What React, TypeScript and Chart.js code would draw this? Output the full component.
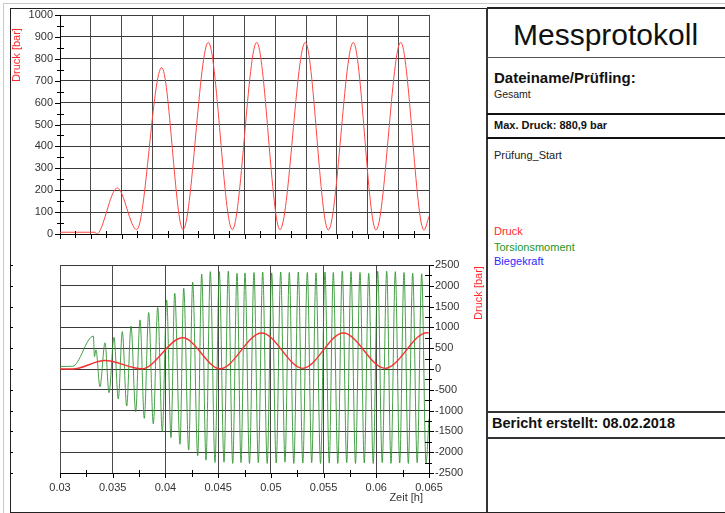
import React, { useEffect, useRef } from 'react';
import { Chart, registerables } from 'chart.js';
Chart.register(...registerables);

const FONT = '"Liberation Sans", Arial, sans-serif';

// ---------- Top chart (Druck over test progress, no x labels) ----------
const TOP_X = [0, 1.138, 1.193, 1.278, 1.863, 2.494, 3.307, 4.0, 4.823, 5.603, 6.397, 7.154, 7.977, 8.725, 9.538, 10.276, 11.08, 11.837, 12];
const TOP_DRUCK = [8, 8, 0, 10, 210, 20, 760, 20, 875, 20, 875, 20, 875, 18, 875, 18, 875, 18, 80];
const TOP_Y_TICKS = [0, 100, 200, 300, 400, 500, 600, 700, 800, 900, 1000];
const TOP_X_GRID = [0, 1, 2, 3, 4, 5, 6, 7, 8, 9, 10, 11, 12];

// ---------- Bottom chart (Zeit [h]) ----------
const BOTTOM_X_TICKS = [0.03, 0.035, 0.04, 0.045, 0.05, 0.055, 0.06, 0.065];
const BOTTOM_Y_TICKS = [-2500, -2000, -1500, -1000, -500, 0, 500, 1000, 1500, 2000, 2500];

const DRUCK_T = [0.03, 0.0312, 0.03427, 0.03775, 0.04164, 0.04518, 0.04913, 0.05302, 0.05687, 0.06083, 0.06481, 0.065];
const DRUCK_V = [0, 0, 205, 5, 750, 5, 865, 15, 865, 15, 870, 868];

const TORSION_T = [
  0.03, 0.0312, 0.03316, 0.03327, 0.03341, 0.03379,
  0.034268, 0.034648, 0.035122, 0.03553, 0.035909, 0.036327, 0.036734, 0.03718,
  0.037588, 0.037996, 0.038413, 0.03885, 0.039267, 0.039703, 0.04012, 0.040528,
  0.040879, 0.041382, 0.041733, 0.042207, 0.042587, 0.043061, 0.04344, 0.043848,
  0.044256, 0.044702, 0.04511, 0.045556, 0.045963, 0.046381, 0.046789, 0.047168,
  0.047547, 0.047974, 0.048401, 0.048809, 0.049226, 0.049653, 0.05008, 0.050507,
  0.050933, 0.051341, 0.051749, 0.052176, 0.052603, 0.05303, 0.053457, 0.053874,
  0.054282, 0.054709, 0.055136, 0.055534, 0.055923, 0.05635, 0.056776, 0.057194,
  0.057602, 0.058029, 0.058455, 0.058863, 0.05928, 0.059707, 0.060134, 0.060561,
  0.060988, 0.061396, 0.061804, 0.062221, 0.062629, 0.063037, 0.063454, 0.063881,
  0.064307, 0.064715, 0.065
];
const TORSION_V = [
  60, 65, 790, 300, 460, -425,
  630, -570, 760, -720, 900, -890, 1030, -1025,
  1180, -1185, 1355, -1320, 1480, -1510, 1660, -1650,
  1820, -1810, 1940, -1950, 2085, -2085, 2280, -2190,
  2340, -2245, 2340, -2240, 2350, -2270, 2300, -2250,
  2310, -2270, 2320, -2250, 2330, -2270, 2310, -2260,
  2330, -2240, 2320, -2270, 2330, -2260, 2320, -2250,
  2310, -2270, 2330, -2260, 2320, -2270, 2350, -2250,
  2340, -2270, 2320, -2260, 2300, -2270, 2350, -2250,
  2350, -2270, 2340, -2260, 2320, -2270, 2300, -2250,
  2290, -2260, -1200
];

const pts = (xs: number[], ys: number[]) => xs.map((x, i) => ({ x, y: ys[i] }));

function crisp(v: number) {
  return Math.round(v) + 0.5;
}

const topPlugin = {
  id: 'topDeco',
  afterDraw(chart: any) {
    const { ctx, chartArea, scales } = chart;
    const { left, bottom } = chartArea;
    const x = scales.x, y = scales.y;
    ctx.save();
    ctx.strokeStyle = '#000';
    ctx.lineWidth = 1;
    ctx.beginPath();
    const yp = y.ticks.map((t: any) => y.getPixelForValue(t.value));
    yp.forEach((p: number) => { ctx.moveTo(left - 5, crisp(p)); ctx.lineTo(left, crisp(p)); });
    for (let i = 0; i < yp.length - 1; i++) {
      const p = crisp((yp[i] + yp[i + 1]) / 2);
      ctx.moveTo(left - 3, p); ctx.lineTo(left + 4, p);
    }
    const xp = x.ticks.map((t: any) => x.getPixelForValue(t.value));
    xp.forEach((p: number) => { ctx.moveTo(crisp(p), bottom); ctx.lineTo(crisp(p), bottom + 5); });
    for (let i = 0; i < xp.length - 1; i++) {
      const p = crisp((xp[i] + xp[i + 1]) / 2);
      ctx.moveTo(p, bottom - 3); ctx.lineTo(p, bottom + 4);
    }
    ctx.stroke();
    ctx.fillStyle = '#ff2a2a';
    ctx.font = `11px ${FONT}`;
    ctx.textAlign = 'center';
    ctx.textBaseline = 'middle';
    ctx.translate(7, 47);
    ctx.rotate(-Math.PI / 2);
    ctx.fillText('Druck [bar]', 0, 0);
    ctx.restore();
  },
};

const bottomPlugin = {
  id: 'bottomDeco',
  afterDraw(chart: any) {
    const { ctx, chartArea, scales } = chart;
    const { right, bottom } = chartArea;
    const x = scales.x, y = scales.y;
    ctx.save();
    ctx.strokeStyle = '#000';
    ctx.lineWidth = 1;
    ctx.beginPath();
    const yp = y.ticks.map((t: any) => y.getPixelForValue(t.value));
    yp.forEach((p: number) => {
      ctx.moveTo(right, crisp(p)); ctx.lineTo(right + 5, crisp(p));
      ctx.moveTo(0, crisp(p)); ctx.lineTo(3, crisp(p));
    });
    for (let i = 0; i < yp.length - 1; i++) {
      const p = crisp((yp[i] + yp[i + 1]) / 2);
      ctx.moveTo(right - 4, p); ctx.lineTo(right + 3, p);
    }
    const xp = x.ticks.map((t: any) => x.getPixelForValue(t.value));
    xp.forEach((p: number) => { ctx.moveTo(crisp(p), bottom); ctx.lineTo(crisp(p), bottom + 5); });
    for (let i = 0; i < xp.length - 1; i++) {
      const p = crisp((xp[i] + xp[i + 1]) / 2);
      ctx.moveTo(p, bottom - 3); ctx.lineTo(p, bottom + 4);
    }
    ctx.stroke();
    ctx.font = `11px ${FONT}`;
    ctx.textBaseline = 'middle';
    ctx.fillStyle = '#333';
    ctx.textAlign = 'right';
    ctx.fillText('Zeit [h]', 413, 245);
    ctx.fillStyle = '#ff2a2a';
    ctx.textAlign = 'center';
    ctx.translate(469, 40);
    ctx.rotate(-Math.PI / 2);
    ctx.fillText('Druck [bar]', 0, 0);
    ctx.restore();
  },
};

const tickFont = { family: FONT, size: 11 };

function TopChart() {
  const ref = useRef<HTMLCanvasElement>(null);
  useEffect(() => {
    const chart = new Chart(ref.current!, {
      type: 'line',
      data: {
        datasets: [{
          data: pts(TOP_X, TOP_DRUCK),
          borderColor: 'rgb(255,70,70)',
          borderWidth: 1,
          pointRadius: 0,
          cubicInterpolationMode: 'monotone',
        }],
      },
      options: {
        animation: false,
        responsive: false,
        devicePixelRatio: 1,
        layout: { padding: { left: 0, right: 58, top: 7, bottom: 0 } },
        plugins: { legend: { display: false }, tooltip: { enabled: false } },
        scales: {
          x: {
            type: 'linear', min: 0, max: 12,
            afterBuildTicks: (s: any) => { s.ticks = TOP_X_GRID.map((v) => ({ value: v })); },
            ticks: { display: false },
            grid: { color: '#4a4a4a', drawTicks: false },
            border: { color: '#000' },
            afterFit: (s: any) => { s.height = 19; },
          },
          y: {
            type: 'linear', min: 0, max: 1000,
            afterBuildTicks: (s: any) => { s.ticks = TOP_Y_TICKS.map((v) => ({ value: v })); },
            ticks: { callback: (v: any) => String(v), color: '#333', font: tickFont, padding: 0 },
            grid: { color: '#3a3a3a', drawTicks: true, tickLength: 7, tickColor: 'rgba(0,0,0,0)' },
            border: { color: '#000' },
            afterFit: (s: any) => { s.width = 50; },
          },
        },
      } as any,
      plugins: [topPlugin],
    });
    return () => chart.destroy();
  }, []);
  return <canvas ref={ref} width={477} height={245} style={{ position: 'absolute', left: 10, top: 8, width: 477, height: 245 }} />;
}

function BottomChart() {
  const ref = useRef<HTMLCanvasElement>(null);
  useEffect(() => {
    const chart = new Chart(ref.current!, {
      type: 'line',
      data: {
        datasets: [
          {
            label: 'Druck',
            data: pts(DRUCK_T, DRUCK_V),
            borderColor: 'rgb(245,50,50)',
            borderWidth: 1.4,
            pointRadius: 0,
            cubicInterpolationMode: 'monotone',
          },
          {
            label: 'Torsionsmoment',
            data: pts(TORSION_T, TORSION_V),
            borderColor: 'rgba(40,145,40,0.85)',
            borderWidth: 1,
            pointRadius: 0,
            cubicInterpolationMode: 'monotone',
          },
        ],
      },
      options: {
        animation: false,
        responsive: false,
        devicePixelRatio: 1,
        layout: { padding: { left: 50, right: 0, top: 12, bottom: 0 } },
        plugins: { legend: { display: false }, tooltip: { enabled: false } },
        scales: {
          x: {
            type: 'linear', min: 0.03, max: 0.065,
            afterBuildTicks: (s: any) => { s.ticks = BOTTOM_X_TICKS.map((v) => ({ value: v })); },
            ticks: { callback: (v: any) => String(Number(Number(v).toFixed(4))), color: '#333', font: tickFont, padding: 8, maxRotation: 0, autoSkip: false },
            grid: { color: '#4a4a4a', drawTicks: false },
            border: { color: '#000' },
            afterFit: (s: any) => { s.height = 38; },
          },
          y: {
            type: 'linear', position: 'right', min: -2500, max: 2500,
            afterBuildTicks: (s: any) => { s.ticks = BOTTOM_Y_TICKS.map((v) => ({ value: v })); },
            ticks: { callback: (v: any) => String(v), color: '#333', font: tickFont, padding: 0 },
            grid: { color: '#3a3a3a', drawTicks: true, tickLength: 6, tickColor: 'rgba(0,0,0,0)' },
            border: { color: '#000' },
            afterFit: (s: any) => { s.width = 58; },
          },
        },
      } as any,
      plugins: [bottomPlugin],
    });
    return () => chart.destroy();
  }, []);
  return <canvas ref={ref} width={477} height={258} style={{ position: 'absolute', left: 10, top: 253, width: 477, height: 258 }} />;
}

const abs = (s: React.CSSProperties): React.CSSProperties => ({ position: 'absolute', ...s });

function Text({ left, top, size, bold, color, children }: any) {
  return (
    <div style={abs({ left, top, fontSize: size, lineHeight: `${size}px`, fontWeight: bold ? 'bold' : 'normal', color: color || '#111', whiteSpace: 'nowrap', fontFamily: FONT })}>
      {children}
    </div>
  );
}

export default function App() {
  return (
    <div style={{ position: 'fixed', left: 0, top: 0, width: 725, height: 513, background: '#fff', overflow: 'hidden', fontFamily: FONT }}>
      {/* light outer frame */}
      <div style={abs({ left: 3, top: 3, width: 730, height: 520, borderLeft: '1px solid #c8c8c8', borderTop: '1px solid #c8c8c8' })} />
      {/* main frame */}
      <div style={abs({ left: 10, top: 8, width: 720, height: 503, borderLeft: '1px solid #222', borderTop: '1px solid #222', borderBottom: '1px solid #222' })} />
      {/* divider */}
      <div style={abs({ left: 486, top: 8, width: 2, height: 504, background: '#333' })} />
      {/* right panel lines */}
      <div style={abs({ left: 487, top: 7, width: 240, height: 2, background: '#222' })} />
      <div style={abs({ left: 487, top: 57, width: 240, height: 1, background: '#555' })} />
      <div style={abs({ left: 487, top: 113, width: 240, height: 2, background: '#111' })} />
      <div style={abs({ left: 487, top: 137, width: 240, height: 2, background: '#111' })} />
      <div style={abs({ left: 487, top: 411, width: 240, height: 2, background: '#333' })} />
      <div style={abs({ left: 487, top: 437, width: 240, height: 2, background: '#333' })} />

      <Text left={513} top={20} size={30}>Messprotokoll</Text>
      <Text left={494} top={70} size={15} bold>Dateiname/Prüfling:</Text>
      <Text left={494} top={88.5} size={10.5} color="#222">Gesamt</Text>
      <Text left={494} top={120} size={11} bold>Max. Druck: 880,9 bar</Text>
      <Text left={494} top={150} size={11} color="#222">Prüfung_Start</Text>
      <Text left={494} top={226} size={11} color="#ff2a2a">Druck</Text>
      <Text left={494} top={241.5} size={11} color="#1e961e">Torsionsmoment</Text>
      <Text left={494} top={256} size={11} color="#2a2aff">Biegekraft</Text>
      <Text left={492} top={415.5} size={14.5} bold>Bericht erstellt: 08.02.2018</Text>

      <TopChart />
      <BottomChart />
    </div>
  );
}
